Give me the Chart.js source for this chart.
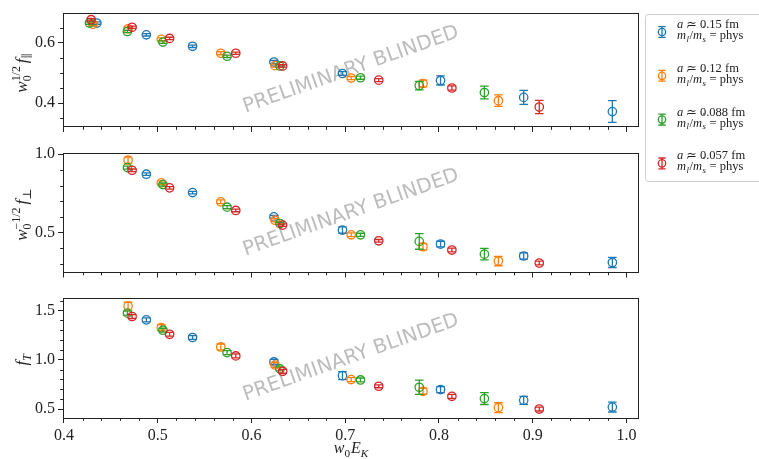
<!DOCTYPE html>
<html lang="en">
<head>
  <meta charset="UTF-8">
  <title>Form factors vs w0 EK</title>
  <script src="https://cdn.jsdelivr.net/npm/chart.js"></script>
  <style>
    body { margin: 0; background: #fff; }
    .stage { position: relative; width: 759px; height: 459px; overflow: hidden; }
    .stage canvas { position: absolute; left: 0; top: 0; }
  </style>
</head>
<body>
<div class="stage">
  <canvas id="fParChart" width="759" height="459"></canvas>
  <canvas id="fPerpChart" width="759" height="459"></canvas>
  <canvas id="fTChart" width="759" height="459"></canvas>
</div>

<script>
  // ensembles
  const spacings = ['0.15', '0.12', '0.088', '0.057'];
  const colors = ['#1f77b4', '#ff7f0e', '#2ca02c', '#d62728'];

  // w0 E_K per ensemble (first point only shows up in the f_par panel)
  const ekA15  = [0.4351, 0.4879, 0.5372, 0.6240, 0.6971, 0.8017, 0.8904, 0.9850];
  const ekA12  = [0.4309, 0.4684, 0.5038, 0.5673, 0.6251, 0.7064, 0.7830, 0.8634];
  const ekA088 = [0.4272, 0.4677, 0.5056, 0.5740, 0.6304, 0.7163, 0.7790, 0.8485];
  const ekA057 = [0.4290, 0.4727, 0.5127, 0.5833, 0.6333, 0.7358, 0.8138, 0.9070];

  // w0^{1/2} f_par
  const fParA15     = [0.665, 0.626, 0.588, 0.536, 0.498, 0.475, 0.419, 0.372];
  const fParErrA15  = [0.004, 0.004, 0.004, 0.005, 0.006, 0.015, 0.023, 0.036];
  const fParA12     = [0.661, 0.646, 0.611, 0.565, 0.524, 0.483, 0.465, 0.408];
  const fParErrA12  = [0.005, 0.005, 0.005, 0.005, 0.005, 0.005, 0.011, 0.019];
  const fParA088    = [0.665, 0.637, 0.602, 0.555, 0.523, 0.484, 0.458, 0.435];
  const fParErrA088 = [0.004, 0.004, 0.004, 0.004, 0.004, 0.005, 0.014, 0.021];
  const fParA057    = [0.676, 0.651, 0.614, 0.565, 0.523, 0.476, 0.450, 0.387];
  const fParErrA057 = [0.004, 0.004, 0.004, 0.004, 0.004, 0.005, 0.007, 0.022];

  // w0^{-1/2} f_perp
  const fPerpA15     = [0.873, 0.756, 0.601, 0.517, 0.428, 0.352, 0.311];
  const fPerpErrA15  = [0.008, 0.008, 0.010, 0.020, 0.018, 0.020, 0.032];
  const fPerpA12     = [0.962, 0.818, 0.697, 0.580, 0.487, 0.411, 0.320];
  const fPerpErrA12  = [0.020, 0.012, 0.012, 0.010, 0.012, 0.020, 0.030];
  const fPerpA088    = [0.915, 0.807, 0.663, 0.559, 0.487, 0.445, 0.364];
  const fPerpErrA088 = [0.010, 0.010, 0.010, 0.008, 0.010, 0.050, 0.037];
  const fPerpA057    = [0.898, 0.786, 0.642, 0.549, 0.449, 0.390, 0.307];
  const fPerpErrA057 = [0.008, 0.008, 0.008, 0.008, 0.008, 0.012, 0.012];

  // f_T
  const fTA15     = [1.405, 1.226, 0.978, 0.839, 0.697, 0.588, 0.520];
  const fTErrA15  = [0.020, 0.020, 0.025, 0.040, 0.030, 0.040, 0.050];
  const fTA12     = [1.544, 1.327, 1.130, 0.947, 0.799, 0.680, 0.514];
  const fTErrA12  = [0.040, 0.030, 0.030, 0.025, 0.020, 0.030, 0.050];
  const fTA088    = [1.473, 1.300, 1.073, 0.907, 0.795, 0.721, 0.606];
  const fTErrA088 = [0.020, 0.020, 0.020, 0.020, 0.020, 0.073, 0.060];
  const fTA057    = [1.439, 1.259, 1.039, 0.883, 0.731, 0.629, 0.500];
  const fTErrA057 = [0.020, 0.020, 0.020, 0.020, 0.015, 0.020, 0.020];

  // axes
  const xMajor = [0.4, 0.5, 0.6, 0.7, 0.8, 0.9, 1.0];
  const xTickLabels = ['0.4', '0.5', '0.6', '0.7', '0.8', '0.9', '1.0'];
  const fParTicks = [0.4, 0.6];
  const fParTickLabels = ['0.4', '0.6'];
  const fPerpTicks = [0.5, 1.0];
  const fPerpTickLabels = ['0.5', '1.0'];
  const fTTicks = [0.5, 1.0, 1.5];
  const fTTickLabels = ['0.5', '1.0', '1.5'];

  const SERIF = '"Liberation Serif", "DejaVu Serif", serif';
  const INK = '#222';

  Chart.defaults.font.family = SERIF;
  Chart.defaults.font.size = 16;
  Chart.defaults.color = INK;

  function range(from, to, step) {
    const out = [];
    for (let v = from; v <= to + 1e-9; v += step) out.push(+v.toFixed(4));
    return out;
  }

  // little rich-text helper for sub/superscripts
  function layoutRich(ctx, parts, size) {
    let x = 0, lastX = 0, lastW = 0;
    const items = [];
    parts.forEach(p => {
      const s = size * (p.scale || ((p.sub || p.sup) ? 0.7 : 1));
      const font = (p.it ? 'italic ' : '') + s + 'px ' + (p.family || SERIF);
      ctx.font = font;
      const w = ctx.measureText(p.t).width;
      let px;
      if (p.stack) {
        px = lastX;
        x = lastX + Math.max(lastW, w) + (p.after || 0);
      } else {
        px = x + (p.gap || 0);
        lastX = px; lastW = w;
        x = px + w + (p.after || 0);
      }
      items.push({ t: p.t, font, px, dy: p.sub ? 0.22 * size : (p.sup ? -0.42 * size : 0) });
    });
    return { items, width: x };
  }

  function drawRich(ctx, parts, x, y, size, align) {
    const lay = layoutRich(ctx, parts, size);
    const x0 = align === 'center' ? x - lay.width / 2 : x;
    ctx.textAlign = 'left';
    ctx.textBaseline = 'alphabetic';
    lay.items.forEach(it => {
      ctx.font = it.font;
      ctx.fillText(it.t, x0 + it.px, y + it.dy);
    });
  }

  function errorbarPath(ctx, x, y1, y2, cap) {
    ctx.moveTo(x, y1); ctx.lineTo(x, y2);
    ctx.moveTo(x - cap, y1); ctx.lineTo(x + cap, y1);
    ctx.moveTo(x - cap, y2); ctx.lineTo(x + cap, y2);
  }

  const panelPlugin = {
    id: 'panel',
    beforeDatasetsDraw(chart) {
      const a = chart.chartArea, ctx = chart.ctx;
      ctx.save();
      ctx.beginPath();
      ctx.rect(a.left, a.top, a.right - a.left, a.bottom - a.top);
      ctx.clip();
      ctx.translate((a.left + a.right) / 2, (a.top + a.bottom) / 2);
      ctx.rotate(-19.5 * Math.PI / 180);
      ctx.font = '20px "DejaVu Sans"';
      ctx.fillStyle = '#bcbcbc';
      ctx.textAlign = 'center';
      ctx.textBaseline = 'middle';
      ctx.fillText('PRELIMINARY BLINDED', 0, 0);
      ctx.restore();
    },
    afterDatasetDraw(chart, args) {
      const ds = chart.data.datasets[args.index];
      const ys = chart.scales.y, ctx = chart.ctx;
      ctx.save();
      ctx.strokeStyle = ds.borderColor;
      ctx.lineWidth = 1.3;
      ctx.beginPath();
      args.meta.data.forEach((pt, i) => {
        const v = ds.data[i].y, e = ds.yerr[i];
        errorbarPath(ctx, pt.x, ys.getPixelForValue(v - e), ys.getPixelForValue(v + e), 4.3);
      });
      ctx.stroke();
      ctx.restore();
    },
    afterDraw(chart, args, opts) {
      const a = chart.chartArea, ctx = chart.ctx;
      const xs = chart.scales.x, ys = chart.scales.y;
      ctx.save();
      // frame
      ctx.strokeStyle = INK;
      ctx.lineWidth = 1;
      ctx.strokeRect(Math.round(a.left) + 0.5, Math.round(a.top) + 0.5,
                     Math.round(a.right - a.left) - 1, Math.round(a.bottom - a.top) - 1);
      // minor ticks
      ctx.beginPath();
      opts.xMinor.forEach(v => {
        const px = Math.round(xs.getPixelForValue(v)) + 0.5;
        ctx.moveTo(px, a.bottom); ctx.lineTo(px, a.bottom + 2.8);
      });
      opts.yMinor.forEach(v => {
        const py = Math.round(ys.getPixelForValue(v)) + 0.5;
        ctx.moveTo(a.left, py); ctx.lineTo(a.left - 2.8, py);
      });
      ctx.stroke();
      // y title (rotated)
      ctx.fillStyle = INK;
      ctx.save();
      ctx.translate(opts.yTitleX, (a.top + a.bottom) / 2 + opts.yTitleShift);
      ctx.rotate(-Math.PI / 2);
      drawRich(ctx, opts.yTitle, 0, 0, 17, 'center');
      ctx.restore();
      // x title
      if (opts.xTitle) {
        drawRich(ctx, opts.xTitle, (a.left + a.right) / 2, 453, 16, 'center');
      }
      // legend
      if (opts.legend) {
        ctx.fillStyle = '#fff';
        ctx.strokeStyle = '#cfcfcf';
        ctx.beginPath();
        ctx.roundRect(645.5, 14.5, 130, 167, 3);
        ctx.fill();
        ctx.stroke();
        const prime = { t: '\u2032', sup: true, scale: 0.9, family: '"DejaVu Serif", serif' };
        chart.data.datasets.forEach((ds, i) => {
          const cy = 32 + i * 43.8, cx = 662;
          ctx.strokeStyle = ds.borderColor;
          ctx.lineWidth = 1.3;
          ctx.beginPath();
          errorbarPath(ctx, cx, cy - 5.4, cy + 5.4, 3.7);
          ctx.stroke();
          ctx.beginPath();
          ctx.arc(cx, cy, 3.7, 0, Math.PI * 2);
          ctx.stroke();
          ctx.fillStyle = INK;
          drawRich(ctx, [{ t: 'a', it: true }, { t: ' \u2243 ' + spacings[i] + ' fm' }], 677, cy - 4, 12.5, 'left');
          drawRich(ctx, [
            { t: 'm', it: true, after: 0.5 }, prime,
            { t: 'l', sub: true, it: true, stack: true, after: 0.5 },
            { t: '/' },
            { t: 'm', it: true, after: 0.5 }, prime,
            { t: 's', sub: true, it: true, stack: true, after: 0.5 },
            { t: ' = phys' }
          ], 677, cy + 7, 12.5, 'left');
        });
      }
      ctx.restore();
    }
  };

  function makeSets(xsList, ysList, errList) {
    return ysList.map((ys, i) => ({
      label: 'a \u2243 ' + spacings[i] + ' fm',
      data: ys.map((y, j) => ({ x: xsList[i][j], y })),
      yerr: errList[i],
      borderColor: colors[i],
      backgroundColor: 'rgba(0,0,0,0)',
      pointRadius: 4.2,
      pointHoverRadius: 4.2,
      pointBorderWidth: 1.3,
      showLine: false,
      order: 3 - i
    }));
  }

  function makeChart(id, cfg) {
    return new Chart(document.getElementById(id), {
      type: 'scatter',
      data: { datasets: cfg.datasets },
      options: {
        responsive: false,
        animation: false,
        events: [],
        layout: { padding: { left: 0, right: 120, top: cfg.top, bottom: 459 - cfg.bottom - cfg.xHeight } },
        plugins: {
          legend: { display: false },
          tooltip: { enabled: false },
          panel: {
            xMinor: range(0.42, 1.0, 0.02).filter(v => !xMajor.some(m => Math.abs(m - v) < 1e-6)),
            yMinor: cfg.yMinor,
            yTitle: cfg.yTitle,
            yTitleX: cfg.yTitleX,
            yTitleShift: cfg.yTitleShift,
            xTitle: cfg.xTitle,
            legend: cfg.legend
          }
        },
        scales: {
          x: {
            type: 'linear',
            min: 0.399,
            max: 1.0134,
            afterBuildTicks: s => { s.ticks = xMajor.map(v => ({ value: v })); },
            afterFit: s => { s.height = cfg.xHeight; },
            ticks: {
              display: cfg.showX,
              autoSkip: false,
              maxRotation: 0,
              padding: 3,
              callback: v => xTickLabels[xMajor.indexOf(v)]
            },
            grid: { drawOnChartArea: false, tickLength: 5, tickColor: INK, tickWidth: 1 },
            border: { display: false }
          },
          y: {
            type: 'linear',
            min: cfg.yMin,
            max: cfg.yMax,
            afterBuildTicks: s => { s.ticks = cfg.yTicks.map(v => ({ value: v })); },
            afterFit: s => { s.width = 63; },
            ticks: {
              autoSkip: false,
              padding: 3,
              callback: v => cfg.yTickLabels[cfg.yTicks.indexOf(v)]
            },
            grid: { drawOnChartArea: false, tickLength: 5, tickColor: INK, tickWidth: 1 },
            border: { display: false }
          }
        }
      },
      plugins: [panelPlugin]
    });
  }

  const ekAll = [ekA15, ekA12, ekA088, ekA057];
  const ekLate = ekAll.map(a => a.slice(1));

  makeChart('fParChart', {
    datasets: makeSets(ekAll, [fParA15, fParA12, fParA088, fParA057],
                       [fParErrA15, fParErrA12, fParErrA088, fParErrA057]),
    top: 7, bottom: 127, xHeight: 10, showX: false,
    yMin: 0.321, yMax: 0.6995, yTicks: fParTicks, yTickLabels: fParTickLabels,
    yMinor: [0.35, 0.45, 0.5, 0.55, 0.65],
    yTitle: [{ t: 'w', it: true }, { t: '0', sub: true }, { t: '1/2', sup: true, stack: true },
             { t: 'f', it: true, gap: 3 }, { t: '\u2225', sub: true }],
    yTitleX: 27, yTitleShift: 3, legend: true
  });

  makeChart('fPerpChart', {
    datasets: makeSets(ekLate, [fPerpA15, fPerpA12, fPerpA088, fPerpA057],
                       [fPerpErrA15, fPerpErrA12, fPerpErrA088, fPerpErrA057]),
    top: 153, bottom: 272.5, xHeight: 10, showX: false,
    yMin: 0.247, yMax: 1.008, yTicks: fPerpTicks, yTickLabels: fPerpTickLabels,
    yMinor: [0.3, 0.4, 0.6, 0.7, 0.8, 0.9],
    yTitle: [{ t: 'w', it: true }, { t: '0', sub: true }, { t: '\u22121/2', sup: true, stack: true },
             { t: 'f', it: true, gap: 3 }, { t: '\u22a5', sub: true }],
    yTitleX: 27, yTitleShift: 2, legend: false
  });

  makeChart('fTChart', {
    datasets: makeSets(ekLate, [fTA15, fTA12, fTA088, fTA057],
                       [fTErrA15, fTErrA12, fTErrA088, fTErrA057]),
    top: 297.5, bottom: 418, xHeight: 41, showX: true,
    yMin: 0.409, yMax: 1.632, yTicks: fTTicks, yTickLabels: fTTickLabels,
    yMinor: [0.6, 0.7, 0.8, 0.9, 1.1, 1.2, 1.3, 1.4, 1.6],
    yTitle: [{ t: 'f', it: true }, { t: 'T', sub: true, it: true }],
    yTitleX: 27, yTitleShift: 2, xTitle: [{ t: 'w', it: true }, { t: '0', sub: true }, { t: 'E', it: true, gap: 1 }, { t: 'K', sub: true, it: true }],
    legend: false
  });
</script>
</body>
</html>
